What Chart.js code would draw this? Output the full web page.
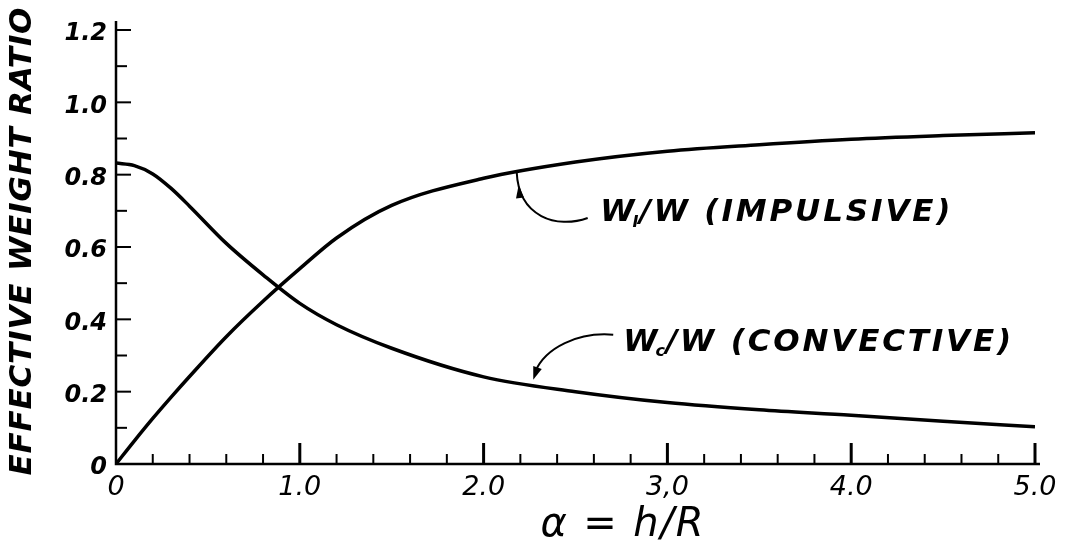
<!DOCTYPE html>
<html>
<head>
<meta charset="utf-8">
<title>Effective weight ratio</title>
<script src="https://cdn.jsdelivr.net/npm/chart.js@4.4.0/dist/chart.umd.min.js"></script>
<style>
  html, body { margin: 0; padding: 0; background: #fff; }
  #wrap { width: 1075px; height: 552px; }
</style>
</head>
<body>
<div id="wrap"><canvas id="chart" width="1075" height="552"></canvas></div>
<script>
// alpha = h/R
const alphaValues = [0, 0.1, 0.2, 0.3, 0.4, 0.6, 0.8, 1.0, 1.2, 1.5, 2.0, 2.5, 3.0, 3.5, 4.0, 4.5, 5.0];
const impulsiveRatio = [0, 0.064, 0.126, 0.185, 0.242, 0.352, 0.45, 0.54, 0.625, 0.715, 0.79, 0.835, 0.865, 0.883, 0.898, 0.908, 0.916];
const convectiveRatio = [0.832, 0.825, 0.802, 0.762, 0.713, 0.61, 0.523, 0.444, 0.385, 0.32, 0.241, 0.20, 0.17, 0.15, 0.135, 0.118, 0.103];

const xTickLabels = ['0', '1.0', '2.0', '3,0', '4.0', '5.0'];
const yTickLabels = ['0', '0.2', '0.4', '0.6', '0.8', '1.0', '1.2'];

const FONT = '"DejaVu Sans", sans-serif';

function toPoints(ys) {
  return alphaValues.map((x, i) => ({ x: x, y: ys[i] }));
}

// draw text stretched to a given width with letter spacing
function spacedText(ctx, text, x, y, width) {
  ctx.letterSpacing = '0px';
  const w = ctx.measureText(text).width;
  const gap = (width - w) / Math.max(1, text.length - 1);
  ctx.letterSpacing = gap + 'px';
  ctx.textAlign = 'left';
  ctx.fillText(text, x, y);
  ctx.letterSpacing = '0px';
}

// W with subscript, then the rest of the label
function curveLabel(ctx, x, y, sub, rest, endX) {
  ctx.textBaseline = 'middle';
  ctx.font = 'italic bold 31px ' + FONT;
  ctx.textAlign = 'left';
  ctx.fillText('W', x, y);
  x += ctx.measureText('W').width - 2;
  ctx.font = 'italic bold 16px ' + FONT;
  ctx.fillText(sub, x, y + 9);
  x += ctx.measureText(sub).width + 1;
  ctx.font = 'italic bold 31px ' + FONT;
  spacedText(ctx, rest, x, y, endX - x);
}

function arrowHead(ctx, tipX, tipY, dirX, dirY, len, half) {
  const n = Math.hypot(dirX, dirY);
  const ux = dirX / n, uy = dirY / n;
  ctx.beginPath();
  ctx.moveTo(tipX, tipY);
  ctx.lineTo(tipX - ux * len - uy * half, tipY - uy * len + ux * half);
  ctx.lineTo(tipX - ux * len + uy * half, tipY - uy * len - ux * half);
  ctx.closePath();
  ctx.fill();
}

// axes with inward ticks, axis titles and curve labels
const handDrawn = {
  id: 'handDrawn',
  afterDraw(chart) {
    const ctx = chart.ctx;
    const xs = chart.scales.x, ys = chart.scales.y;
    const a = chart.chartArea;
    ctx.save();
    ctx.strokeStyle = '#000';
    ctx.fillStyle = '#000';
    ctx.lineCap = 'butt';

    // axis lines
    ctx.lineWidth = 2.5;
    ctx.beginPath();
    ctx.moveTo(a.left, a.top - 9);
    ctx.lineTo(a.left, a.bottom);
    ctx.lineTo(a.right + 5, a.bottom);
    ctx.stroke();

    // x ticks: long at whole numbers
    xs.ticks.forEach(t => {
      const k = Math.round(t.value * 10);
      const px = xs.getPixelForValue(t.value);
      const major = k % 10 === 0;
      if (k === 0) return;
      ctx.lineWidth = major ? 3 : 2;
      ctx.beginPath();
      ctx.moveTo(px, a.bottom);
      ctx.lineTo(px, a.bottom - (major ? 21 : 10));
      ctx.stroke();
    });

    // y ticks
    ys.ticks.forEach(t => {
      const k = Math.round(t.value * 10);
      if (k === 0) return;
      const py = ys.getPixelForValue(t.value);
      ctx.lineWidth = 2;
      ctx.beginPath();
      ctx.moveTo(a.left, py);
      ctx.lineTo(a.left + (k % 2 === 0 ? 15 : 11), py);
      ctx.stroke();
    });

    // y axis title
    ctx.save();
    ctx.translate(23, ys.getPixelForValue(0.615));
    ctx.rotate(-Math.PI / 2);
    ctx.font = 'italic bold 31px ' + FONT;
    ctx.textBaseline = 'middle';
    spacedText(ctx, 'EFFECTIVE WEIGHT RATIO', -234, 0, 468);
    ctx.restore();

    // x axis title
    ctx.font = 'italic 40px ' + FONT;
    ctx.textBaseline = 'middle';
    spacedText(ctx, 'α = h/R', xs.getPixelForValue(2.31), a.bottom + 62, 163);

    // impulsive label and arrow
    curveLabel(ctx, xs.getPixelForValue(2.635), ys.getPixelForValue(0.693), 'I', '/W (IMPULSIVE)', xs.getPixelForValue(4.54));
    const ix = xs.getPixelForValue(2.18), iy = ys.getPixelForValue(0.81);
    ctx.lineWidth = 2;
    ctx.beginPath();
    ctx.moveTo(ix + 71, iy + 47);
    ctx.bezierCurveTo(ix + 40, iy + 58, ix + 2, iy + 46, ix, iy + 1);
    ctx.stroke();
    arrowHead(ctx, ix + 2, iy + 14, -0.1, -1, 13, 4);

    // convective label and arrow
    curveLabel(ctx, xs.getPixelForValue(2.76), ys.getPixelForValue(0.335), 'c', '/W (CONVECTIVE)', xs.getPixelForValue(4.87));
    const cx = xs.getPixelForValue(2.27), cy = ys.getPixelForValue(0.222);
    ctx.beginPath();
    ctx.moveTo(cx + 80, cy - 49);
    ctx.bezierCurveTo(cx + 45, cy - 52, cx + 12, cy - 36, cx + 2, cy - 12);
    ctx.stroke();
    arrowHead(ctx, cx, cy - 4, -0.35, 1, 13, 4.5);

    ctx.restore();
  }
};

new Chart(document.getElementById('chart'), {
  type: 'line',
  data: {
    datasets: [
      {
        label: 'WI/W (IMPULSIVE)',
        data: toPoints(impulsiveRatio),
        borderColor: '#000',
        borderWidth: 3.5,
        pointRadius: 0,
        cubicInterpolationMode: 'monotone',
        fill: false
      },
      {
        label: 'Wc/W (CONVECTIVE)',
        data: toPoints(convectiveRatio),
        borderColor: '#000',
        borderWidth: 3.5,
        pointRadius: 0,
        cubicInterpolationMode: 'monotone',
        fill: false
      }
    ]
  },
  options: {
    responsive: false,
    animation: false,
    devicePixelRatio: 1,
    layout: { padding: { top: 30, right: 40, left: 0, bottom: 0 } },
    plugins: { legend: { display: false }, tooltip: { enabled: false } },
    scales: {
      x: {
        type: 'linear',
        min: 0,
        max: 5,
        afterFit: s => { s.height = 88; },
        border: { display: false },
        grid: { display: false, drawTicks: false },
        ticks: {
          stepSize: 0.2,
          autoSkip: false,
          maxRotation: 0,
          padding: 8,
          color: '#000',
          font: { family: FONT, size: 27, style: 'italic' },
          callback: v => {
            const k = Math.round(v * 10);
            return k % 10 === 0 ? xTickLabels[k / 10] : '';
          }
        }
      },
      y: {
        min: 0,
        max: 1.2,
        afterFit: s => { s.width = 116; },
        border: { display: false },
        grid: { display: false, drawTicks: false },
        ticks: {
          stepSize: 0.1,
          autoSkip: false,
          padding: 9,
          labelOffset: 4,
          color: '#000',
          font: { family: FONT, size: 24, style: 'italic', weight: 'bold' },
          callback: v => {
            const k = Math.round(v * 10);
            return k % 2 === 0 ? yTickLabels[k / 2] : '';
          }
        }
      }
    }
  },
  plugins: [handDrawn]
});
</script>
</body>
</html>
